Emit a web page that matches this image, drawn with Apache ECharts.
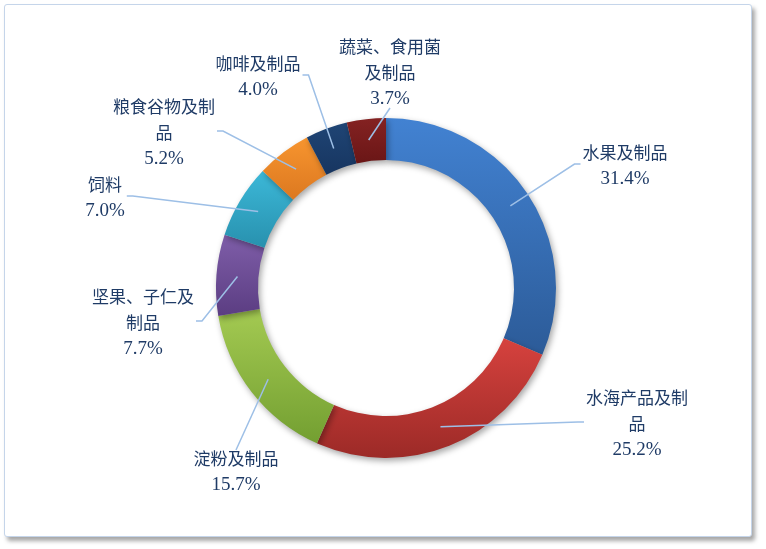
<!DOCTYPE html>
<html>
<head>
<meta charset="utf-8">
<script src="https://cdn.jsdelivr.net/npm/echarts@6/dist/echarts.min.js"></script>
<style>
  html, body { margin: 0; padding: 0; background: #fff; }
  #frame {
    position: absolute; left: 4px; top: 4px; width: 746px; height: 531px;
    border: 1px solid #c5d5ea; border-radius: 3px; background: #fff;
    box-shadow: 3px 4px 4px rgba(0,0,0,0.35);
  }
  #main { position: absolute; left: 0; top: 0; width: 766px; height: 549px; }
</style>
</head>
<body>
<div id="frame"></div>
<div id="main"></div>
<script>
// 类别与占比 (%)
var categories = ['水果及制品', '水海产品及制品', '淀粉及制品', '坚果、子仁及制品', '饲料', '粮食谷物及制品', '咖啡及制品', '蔬菜、食用菌及制品'];
var values = [31.4, 25.2, 15.7, 7.7, 7.0, 5.2, 4.0, 3.7];
// 标签换行显示
var labelLines = [
    ['水果及制品'],
    ['水海产品及制', '品'],
    ['淀粉及制品'],
    ['坚果、子仁及', '制品'],
    ['饲料'],
    ['粮食谷物及制', '品'],
    ['咖啡及制品'],
    ['蔬菜、食用菌', '及制品']
];
var colorsTop = ['#4282d2', '#d6423e', '#a4ca52', '#7f5ea9', '#3cb8d8', '#f7952f', '#1f4575', '#842222'];
var colorsBottom = ['#2c5b98', '#9c2a27', '#739f31', '#5b3d82', '#2891ae', '#dc7820', '#173560', '#6a1616'];
// 标签中心位置
var labelPos = [[625, 166], [637, 424], [236, 472], [143, 323], [105, 198], [164, 133], [258, 77], [390, 73]];
var center = [386, 288];
var radius = [128, 170];

var ringData = categories.map(function (name, i) {
    return {
        name: name,
        value: values[i],
        itemStyle: {
            color: new echarts.graphic.LinearGradient(0, 0, 0, 1, [
                { offset: 0, color: colorsTop[i] },
                { offset: 1, color: colorsBottom[i] }
            ])
        }
    };
});
var labelData = categories.map(function (name, i) {
    return { name: name, value: values[i] };
});

var option = {
    animation: false,
    series: [{
        // 圆环
        type: 'pie',
        z: 2,
        center: center,
        radius: radius,
        startAngle: 90,
        clockwise: true,
        itemStyle: {
            shadowBlur: 6,
            shadowOffsetX: 2,
            shadowOffsetY: 3,
            shadowColor: 'rgba(0,0,0,0.35)'
        },
        label: { show: false },
        labelLine: { show: false },
        emphasis: { disabled: true },
        silent: true,
        data: ringData
    }, {
        // 标签和引导线，画在圆环上面
        type: 'pie',
        z: 5,
        center: center,
        radius: radius,
        startAngle: 90,
        clockwise: true,
        avoidLabelOverlap: false,
        itemStyle: { color: 'rgba(0,0,0,0)' },
        label: {
            show: true,
            position: 'outside',
            formatter: function (p) {
                var s = labelLines[p.dataIndex].map(function (t) { return '{a|' + t + '}'; }).join('\n');
                return s + '\n{b|' + values[p.dataIndex].toFixed(1) + '%}';
            },
            rich: {
                a: { fontFamily: 'Noto Sans CJK SC', fontSize: 17, color: '#1f3b66', lineHeight: 26, align: 'center' },
                b: { fontFamily: 'Liberation Serif', fontSize: 19, color: '#1f3b66', lineHeight: 26, align: 'center' }
            }
        },
        labelLine: {
            show: true,
            showAbove: true,
            lineStyle: { color: '#9dbfe6', width: 1.5 }
        },
        labelLayout: function (params) {
            var pos = labelPos[params.dataIndex];
            var res = { x: pos[0], y: pos[1], align: 'center', verticalAlign: 'middle' };
            var pts = params.labelLinePoints;
            if (pts && pts.length) {
                // 引导线从圆环中部开始
                var dx = pts[0][0] - center[0], dy = pts[0][1] - center[1];
                var d = Math.sqrt(dx * dx + dy * dy);
                var rm = (radius[0] + radius[1]) / 2;
                var sx = center[0] + dx / d * rm, sy = center[1] + dy / d * rm;
                var w = params.labelRect.width, h = params.labelRect.height;
                var rx = pos[0] - w / 2, ry = pos[1] - h / 2;
                var end, mid;
                if (sx < rx) {
                    end = [rx - 2, pos[1] - 2]; mid = [end[0] - 6, end[1]];
                } else if (sx > rx + w) {
                    end = [rx + w + 2, pos[1] - 2]; mid = [end[0] + 6, end[1]];
                } else if (sy > ry + h) {
                    end = [pos[0], ry + h]; mid = end;
                } else {
                    end = [pos[0], ry]; mid = end;
                }
                res.labelLinePoints = [[sx, sy], mid, end];
            }
            return res;
        },
        emphasis: { disabled: true },
        silent: true,
        data: labelData
    }]
};

var myChart = echarts.init(document.getElementById('main'));
myChart.setOption(option);
</script>
</body>
</html>
